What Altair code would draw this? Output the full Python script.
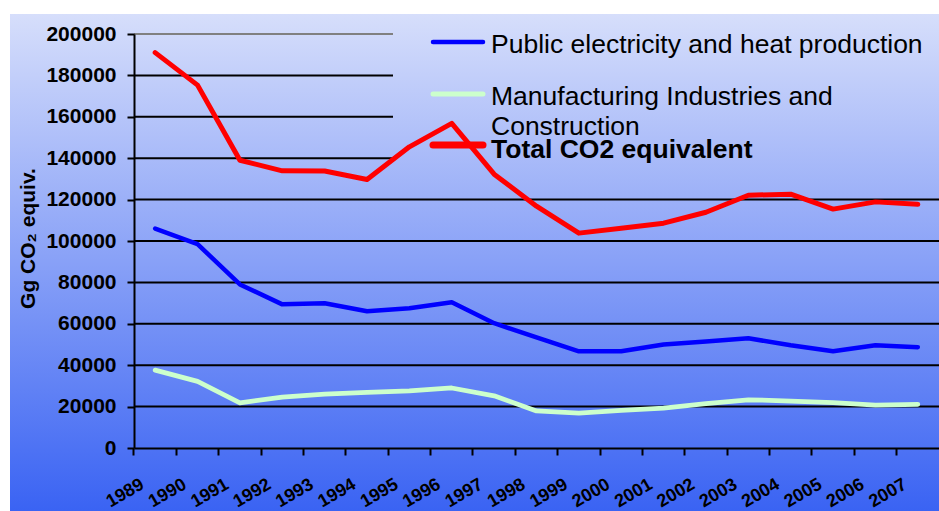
import altair as alt
import pandas as pd

# ---------------- data ----------------
years = [str(y) for y in range(1989, 2008)]
public_elec = [106000, 98500, 79000, 69400, 69900, 66100, 67500, 70400, 60300, 53400,
               46700, 46700, 50000, 51500, 53000, 49600, 46700, 49600, 48700]
manufacturing = [37600, 32200, 21800, 24600, 26000, 26900, 27600, 29000, 25200, 17900,
                 16900, 18200, 19300, 21400, 23300, 22700, 21900, 20700, 21100]
total_co2 = [191000, 175300, 139000, 133900, 133800, 129700, 145500, 156800, 132300, 116800,
             103800, 106200, 108600, 113900, 122100, 122600, 115400, 118900, 117700]

series_names = ["Public electricity and heat production",
                "Manufacturing Industries and Construction",
                "Total CO2 equivalent"]
series_colors = ["#0000ff", "#ccffcc", "#ff0000"]
series_widths = [4.5, 5, 8]
y_ticks = list(range(0, 200001, 20000))
grid_full = [v for v in y_ticks if 0 < v <= 120000]
grid_short = [v for v in y_ticks if 120000 < v < 200000]
grid_top = [200000]

rows = []
for name, vals in zip(series_names, [public_elec, manufacturing, total_co2]):
    for y, v in zip(years, vals):
        rows.append({"year": y, "value": v, "series": name})
df = pd.DataFrame(rows)

# ---------------- layout ----------------
W, H = 805, 414
FONT = "Liberation Sans"
bg_gradient = {
    "gradient": "linear", "x1": 0, "y1": 0, "x2": 0, "y2": 1,
    "stops": [{"offset": 0, "color": "#d6defb"},
              {"offset": 1, "color": "#3a63f3"}],
}

yscale = alt.Scale(domain=[0, 200000], nice=False)
xscale = alt.Scale(type="band", domain=years, paddingInner=0, paddingOuter=0)

background = alt.Chart(alt.Data(values=[{}])).mark_rect(fill=bg_gradient).encode(
    x=alt.value(-124), x2=alt.value(W), y=alt.value(-20), y2=alt.value(H + 63)
)

def grid_layer(vals, color, x2):
    return alt.Chart(pd.DataFrame({"v": vals})).mark_rule(color=color, strokeWidth=2).encode(
        y=alt.Y("v:Q", scale=yscale),
        x=alt.value(0), x2=alt.value(x2),
    )

grid1 = grid_layer(grid_full, "black", W)
grid2 = grid_layer(grid_short, "black", 259)
grid3 = grid_layer(grid_top, "#808080", 259)

lines = alt.Chart(df).mark_line(strokeCap="round", strokeJoin="round").encode(
    x=alt.X("year:N", scale=xscale, sort=years,
            axis=alt.Axis(bandPosition=0, labelAngle=-30, labelAlign="right",
                          labelBaseline="top", labelFontSize=18, labelFontWeight="bold",
                          labelFont=FONT, labelColor="black", labelOffset=-17,
                          labelPadding=20, tickSize=7, tickWidth=2, tickColor="black",
                          domainColor="black", domainWidth=2, grid=False, title=None,
                          zindex=1)),
    y=alt.Y("value:Q", scale=yscale,
            axis=alt.Axis(values=y_ticks, format="d", labelFontSize=21,
                          labelFontWeight="bold", labelFont=FONT, labelColor="black",
                          labelPadding=11, tickSize=7, tickWidth=2, tickColor="black",
                          domainColor="black", domainWidth=2, grid=False,
                          title="Gg CO\u2082 equiv.", titleFont=FONT, titleFontSize=21,
                          titleFontWeight="bold", titleColor="black", titleAngle=270,
                          titleX=-106, titleY=204, titleAlign="center",
                          titleBaseline="middle", zindex=1)),
    color=alt.Color("series:N", scale=alt.Scale(domain=series_names, range=series_colors),
                    legend=None),
    size=alt.Size("series:N", scale=alt.Scale(domain=series_names, range=series_widths),
                  legend=None),
    detail="series:N",
)

# ---------------- custom legend ----------------
legend_sym_y = [8, 60, 111]
legend_txt_y = [19, 71, 124]
legend_layers = []
one = alt.Data(values=[{}])
for i, name in enumerate(series_names):
    legend_layers.append(
        alt.Chart(one).mark_rule(color=series_colors[i],
                                 strokeWidth=series_widths[i] if i < 2 else 7,
                                 strokeCap="round").encode(
            x=alt.value(299), x2=alt.value(349), y=alt.value(legend_sym_y[i]))
    )
    if i == 1:
        txt = ["Manufacturing Industries and", "Construction"]
    else:
        txt = name
    legend_layers.append(
        alt.Chart(one).mark_text(align="left", baseline="alphabetic", font=FONT,
                                 fontSize=26.5, lineHeight=30,
                                 fontWeight="bold" if i == 2 else "normal",
                                 color="black").encode(
            x=alt.value(357), y=alt.value(legend_txt_y[i]), text=alt.value(txt))
    )

chart = alt.layer(background, grid1, grid2, grid3, lines, *legend_layers).properties(
    width=W, height=H,
    autosize=alt.AutoSizeParams(type="none"),
    padding={"left": 134, "top": 34, "right": 0, "bottom": 63},
    background="white",
).configure_view(stroke=None)

chart.save("out.html", embed_options={"renderer": "svg", "actions": False})
